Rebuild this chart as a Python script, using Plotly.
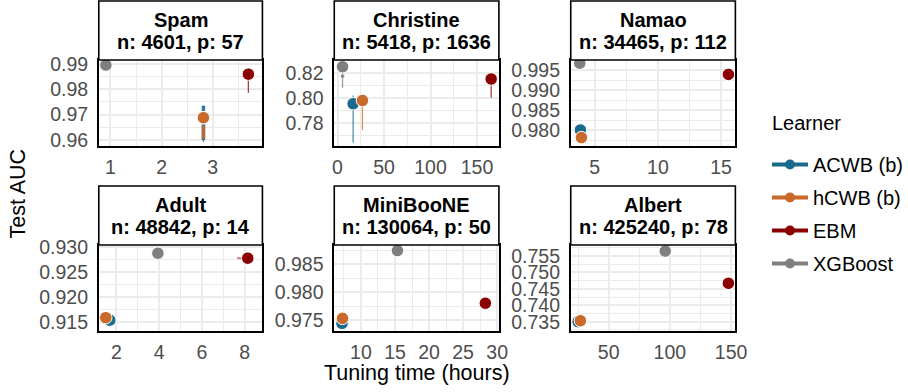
import plotly.graph_objects as go

# ---------------- data ----------------
datasets = ["Spam", "Christine", "Namao", "Adult", "MiniBooNE", "Albert"]
n_obs = [4601, 5418, 34465, 48842, 130064, 425240]
n_feat = [57, 1636, 112, 14, 50, 78]

learners = ["ACWB (b)", "hCWB (b)", "EBM", "XGBoost"]

# median tuning time (hours)
time_acwb = [2.82, 16.8, 3.87, 1.69, 7.22, 25.0]
time_hcwb = [2.82, 26.8, 3.95, 1.50, 7.30, 26.9]
time_ebm = [3.70, 165.2, 15.58, 8.15, 28.26, 147.8]
time_xgb = [0.91, 5.4, 3.82, 3.94, 15.36, 96.2]

# tuning-time range (horizontal whisker)
time_lo_acwb = time_acwb
time_hi_acwb = time_acwb
time_lo_hcwb = time_hcwb
time_hi_hcwb = time_hcwb
time_lo_ebm = [3.70, 165.2, 15.58, 7.65, 28.26, 147.8]
time_hi_ebm = time_ebm
time_lo_xgb = time_xgb
time_hi_xgb = time_xgb

# median test AUC
auc_acwb = [0.9688, 0.7952, 0.9800, 0.9153, 0.9744, 0.7350]
auc_hcwb = [0.9688, 0.7978, 0.9781, 0.9158, 0.9753, 0.7353]
auc_ebm = [0.9860, 0.8150, 0.9939, 0.9278, 0.9780, 0.7467]
auc_xgb = [0.9896, 0.8248, 0.9967, 0.9288, 0.9874, 0.7565]

# AUC range (thin whisker)
auc_lo_acwb = [0.9592, 0.7643, 0.9800, 0.9153, 0.9744, 0.7350]
auc_hi_acwb = [0.9735, 0.8018, 0.9800, 0.9153, 0.9744, 0.7350]
auc_lo_hcwb = [0.9604, 0.7742, 0.9781, 0.9158, 0.9753, 0.7353]
auc_hi_hcwb = [0.9688, 0.7978, 0.9781, 0.9158, 0.9753, 0.7353]
auc_lo_ebm = [0.9787, 0.8000, 0.9939, 0.9278, 0.9780, 0.7467]
auc_hi_ebm = [0.9860, 0.8150, 0.9939, 0.9278, 0.9780, 0.7467]
auc_lo_xgb = [0.9896, 0.8080, 0.9967, 0.9288, 0.9874, 0.7565]
auc_hi_xgb = [0.9896, 0.8248, 0.9967, 0.9288, 0.9874, 0.7565]

# AUC inter-quartile range (thick whisker)
auc_q1_acwb = [0.9600, 0.7952, 0.9800, 0.9153, 0.9744, 0.7350]
auc_q3_acwb = [0.9735, 0.7952, 0.9800, 0.9153, 0.9744, 0.7350]
auc_q1_hcwb = [0.9604, 0.7978, 0.9781, 0.9158, 0.9753, 0.7353]
auc_q3_hcwb = [0.9656, 0.7978, 0.9781, 0.9158, 0.9753, 0.7353]
auc_q1_ebm = auc_ebm
auc_q3_ebm = auc_ebm
auc_q1_xgb = [0.9896, 0.8163, 0.9967, 0.9288, 0.9874, 0.7565]
auc_q3_xgb = [0.9896, 0.8185, 0.9967, 0.9288, 0.9874, 0.7565]

# ---------------- styling ----------------
colors = ["#1A6A8D", "#C9692A", "#8B0000", "#7F7F7F"]
FONT = "Liberation Sans, Arial, sans-serif"

x_ranges = [[0.771, 3.975], [-3.5, 173.5], [3.106, 16.13],
            [1.173, 8.836], [6.09, 30.25], [19.0, 153.5]]
y_ranges = [[0.9576, 0.9916], [0.7614, 0.8302], [0.9760, 0.9975],
            [0.91312, 0.93046], [0.97304, 0.9884], [0.73217, 0.75835]]
x_dtick = [1, 50, 5, 2, 5, 50]
y_dtick = [0.01, 0.02, 0.005, 0.005, 0.005, 0.005]
y_fmt = [".2f", ".2f", ".3f", ".3f", ".3f", ".3f"]

W, H = 908, 392
col_px = [(99, 263), (335, 500), (572, 737)]
row_px = [(60, 146), (245, 331)]


def rgba(hx, a):
    hx = hx.lstrip("#")
    r, g, b = int(hx[0:2], 16), int(hx[2:4], 16), int(hx[4:6], 16)
    return f"rgba({r},{g},{b},{a})"


times = [time_acwb, time_hcwb, time_ebm, time_xgb]
t_lo = [time_lo_acwb, time_lo_hcwb, time_lo_ebm, time_lo_xgb]
t_hi = [time_hi_acwb, time_hi_hcwb, time_hi_ebm, time_hi_xgb]
aucs = [auc_acwb, auc_hcwb, auc_ebm, auc_xgb]
a_lo = [auc_lo_acwb, auc_lo_hcwb, auc_lo_ebm, auc_lo_xgb]
a_hi = [auc_hi_acwb, auc_hi_hcwb, auc_hi_ebm, auc_hi_xgb]
a_q1 = [auc_q1_acwb, auc_q1_hcwb, auc_q1_ebm, auc_q1_xgb]
a_q3 = [auc_q3_acwb, auc_q3_hcwb, auc_q3_ebm, auc_q3_xgb]

fig = go.Figure()

for p in range(len(datasets)):
    k = "" if p == 0 else str(p + 1)
    xa, ya = "x" + k, "y" + k
    # thin whiskers
    for j in range(len(learners)):
        fig.add_trace(go.Scatter(
            x=[times[j][p], times[j][p], None, t_lo[j][p], t_hi[j][p]],
            y=[a_lo[j][p], a_hi[j][p], None, aucs[j][p], aucs[j][p]],
            mode="lines", line=dict(color=rgba(colors[j], 0.75), width=1.3),
            xaxis=xa, yaxis=ya, showlegend=False, hoverinfo="skip"))
    # thick whiskers
    for j in range(len(learners)):
        fig.add_trace(go.Scatter(
            x=[times[j][p], times[j][p]],
            y=[a_q1[j][p], a_q3[j][p]],
            mode="lines", line=dict(color=rgba(colors[j], 0.85), width=3.5),
            xaxis=xa, yaxis=ya, showlegend=False, hoverinfo="skip"))
    # points
    for j in range(len(learners)):
        fig.add_trace(go.Scatter(
            x=[times[j][p]], y=[aucs[j][p]], mode="markers",
            marker=dict(color=colors[j], size=12.5,
                        line=dict(color="white", width=1)),
            xaxis=xa, yaxis=ya, showlegend=False, name=learners[j]))

# legend entries
for j in range(len(learners)):
    fig.add_trace(go.Scatter(
        x=[None], y=[None], mode="lines+markers", name=learners[j],
        legendgroup=learners[j],
        line=dict(color=colors[j], width=4),
        marker=dict(color=colors[j], size=10),
        xaxis="x", yaxis="y", showlegend=True))

layout = dict(
    width=W, height=H, template="none",
    paper_bgcolor="white", plot_bgcolor="white",
    margin=dict(l=0, r=0, t=0, b=0),
    font=dict(family=FONT, size=19.5, color="#4D4D4D"),
    showlegend=True,
    legend=dict(
        font=dict(size=20, color="black", family=FONT),
        x=769 / W, xanchor="left", y=1 - 145 / H, yanchor="top",
        traceorder="grouped", tracegroupgap=4,
        bgcolor="rgba(0,0,0,0)", itemwidth=36),
)

shapes = []
annotations = []
for p in range(len(datasets)):
    r, c = divmod(p, 3)
    k = "" if p == 0 else str(p + 1)
    x0, x1 = col_px[c]
    y0, y1 = row_px[r]
    layout["xaxis" + k] = dict(
        domain=[x0 / W, x1 / W], anchor="y" + k, range=x_ranges[p],
        dtick=x_dtick[p], tick0=0, showgrid=True, gridcolor="#EBEBEB",
        gridwidth=1.6, zeroline=False, showline=True, linecolor="black",
        linewidth=1.6, mirror=True, ticks="", ticklabelstandoff=3,
        tickfont=dict(size=19.5, color="#4D4D4D"), automargin=False,
        minor=dict(dtick=x_dtick[p] / 2, tick0=0, showgrid=True,
                   gridcolor="#EBEBEB", gridwidth=0.9))
    layout["yaxis" + k] = dict(
        domain=[1 - y1 / H, 1 - y0 / H], anchor="x" + k, range=y_ranges[p],
        dtick=y_dtick[p], tick0=0, tickformat=y_fmt[p], showgrid=True,
        gridcolor="#EBEBEB", gridwidth=1.6, zeroline=False, showline=True,
        linecolor="black", linewidth=1.6, mirror=True, ticks="",
        ticklabelstandoff=5, tickfont=dict(size=19.5, color="#4D4D4D"),
        automargin=False,
        minor=dict(dtick=y_dtick[p] / 2, tick0=0, showgrid=True,
                   gridcolor="#EBEBEB", gridwidth=0.9))
    strip_h = 59 / 86
    shapes.append(dict(type="rect", xref="x" + k + " domain", yref="y" + k + " domain",
                       x0=0, x1=1, y0=1, y1=1 + strip_h, fillcolor="white",
                       line=dict(color="black", width=1.6), layer="above"))
    annotations.append(dict(text="<b>" + datasets[p] + "</b>", xref="x" + k + " domain",
                            yref="y" + k + " domain", x=0.5, y=1.46, showarrow=False,
                            xanchor="center", yanchor="middle",
                            font=dict(size=20, color="black", family=FONT)))
    annotations.append(dict(text="<b>n: " + str(n_obs[p]) + ", p: " + str(n_feat[p]) + "</b>",
                            xref="x" + k + " domain", yref="y" + k + " domain",
                            x=0.5, y=1.21, showarrow=False,
                            xanchor="center", yanchor="middle",
                            font=dict(size=20, color="black", family=FONT)))

annotations.append(dict(text="Tuning time (hours)", xref="paper", yref="paper",
                        x=418 / W, y=1 - 373 / H, showarrow=False,
                        xanchor="center", yanchor="middle",
                        font=dict(size=21.5, color="black", family=FONT)))
annotations.append(dict(text="Test AUC", xref="paper", yref="paper",
                        x=18 / W, y=1 - 193.5 / H, showarrow=False, textangle=-90,
                        xanchor="center", yanchor="middle",
                        font=dict(size=21.5, color="black", family=FONT)))
annotations.append(dict(text="Learner", xref="paper", yref="paper",
                        x=772 / W, y=1 - 122.7 / H, showarrow=False,
                        xanchor="left", yanchor="middle",
                        font=dict(size=20, color="black", family=FONT)))

layout["shapes"] = shapes
layout["annotations"] = annotations
fig.update_layout(**layout)
fig.write_html("out.html", config={"displayModeBar": False},
               post_script="document.body.style.margin='0';document.body.style.overflow='hidden';")
